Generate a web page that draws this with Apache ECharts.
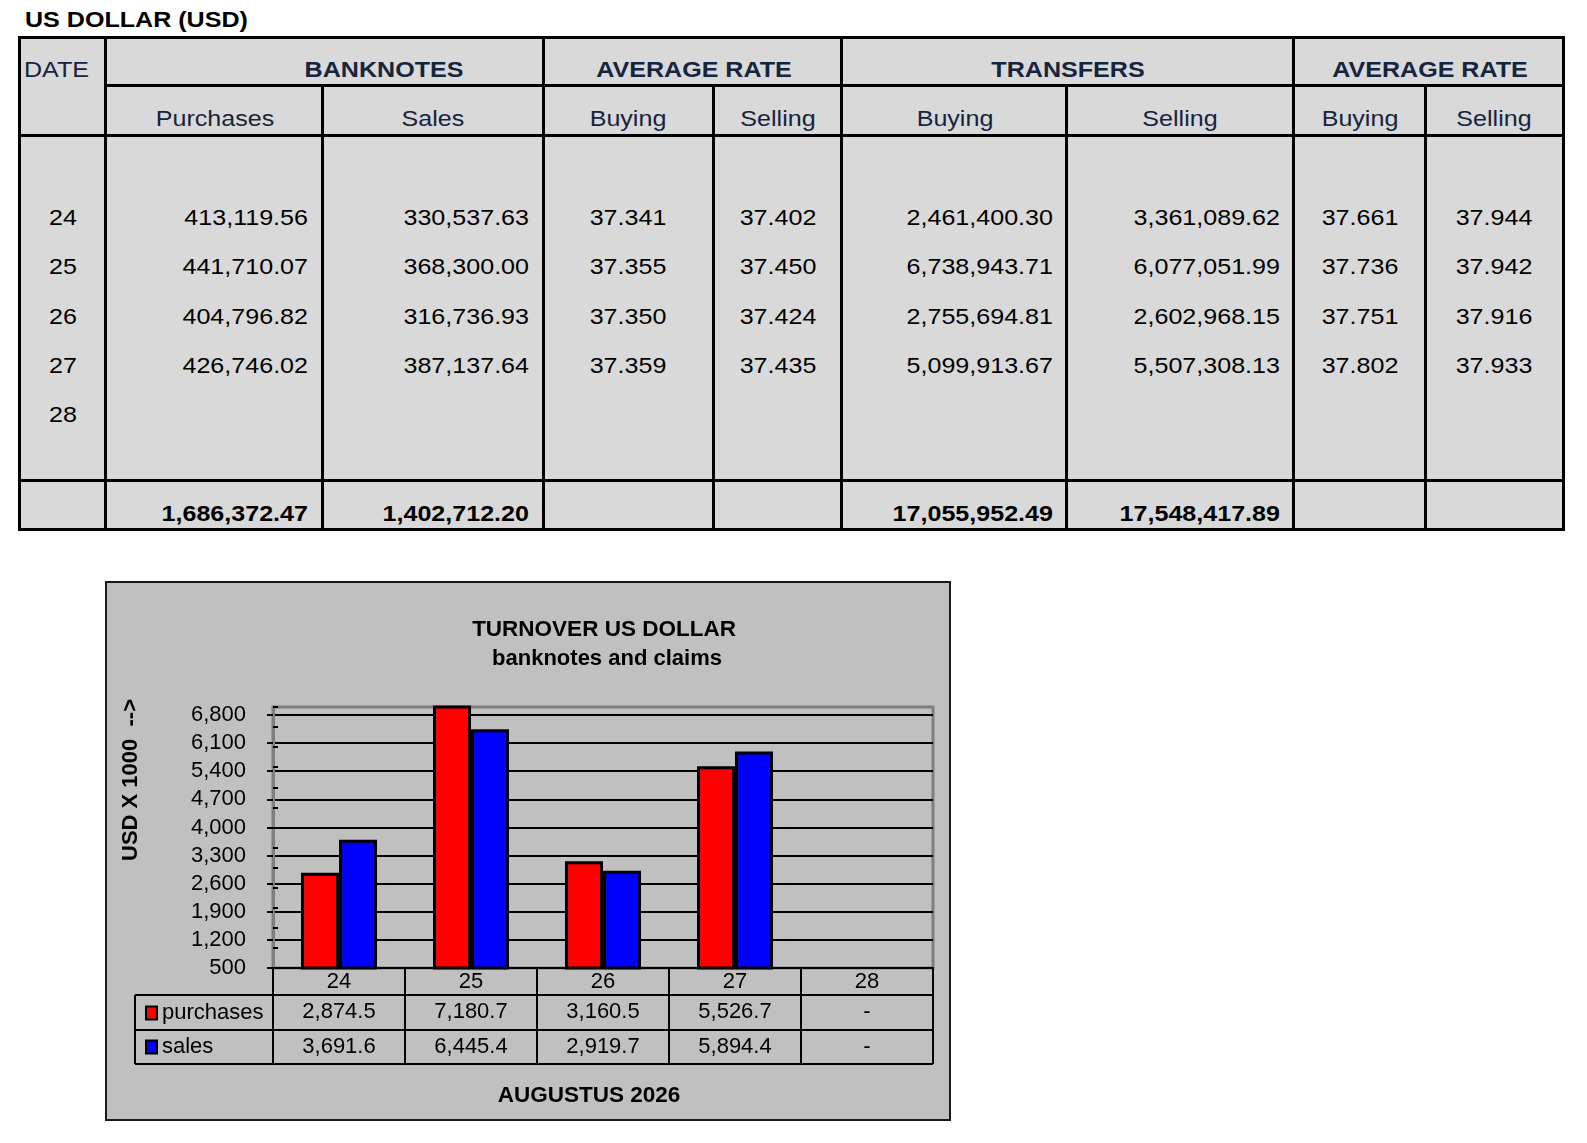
<!DOCTYPE html>
<html>
<head>
<meta charset="utf-8">
<title>US DOLLAR (USD)</title>
<script src="https://cdn.jsdelivr.net/npm/echarts@6.0.0/dist/echarts.min.js"></script>
<style>
  html, body { margin: 0; padding: 0; background: #fff; }
  #page { position: relative; width: 1587px; height: 1143px; overflow: hidden; font-family: "Liberation Sans", Arial, sans-serif; }
  .cell { position: absolute; white-space: nowrap; font-size: 22px; height: 26px; line-height: 26px; color: #000; }
  .hd { font-weight: bold; color: #15243f; }
  .sub { color: #15243f; }
  .tot { font-weight: bold; }
  .ttl { font-weight: bold; }
  .ln { position: absolute; background: #000; }
  #tbl { position: absolute; left: 19px; top: 37px; width: 1544px; height: 492px; background: #d9d9d9; }
  #chart { position: absolute; left: 105px; top: 581px; width: 846px; height: 540px; box-sizing: border-box; border: 2px solid #1a1a1a; background: #c0c0c0; }
</style>
</head>
<body>
<div id="page">
  <div id="tbl"></div>
  <div id="chart"></div>
</div>
<script>
// ---- table values (banknotes / transfers, USD) ----
var dates       = ['24', '25', '26', '27', '28'];
var bnPurchases = [413119.56, 441710.07, 404796.82, 426746.02, null];
var bnSales     = [330537.63, 368300.00, 316736.93, 387137.64, null];
var bnRateBuy   = [37.341, 37.355, 37.350, 37.359, null];
var bnRateSell  = [37.402, 37.450, 37.424, 37.435, null];
var trBuy       = [2461400.30, 6738943.71, 2755694.81, 5099913.67, null];
var trSell      = [3361089.62, 6077051.99, 2602968.15, 5507308.13, null];
var trRateBuy   = [37.661, 37.736, 37.751, 37.802, null];
var trRateSell  = [37.944, 37.942, 37.916, 37.933, null];
var totals      = [1686372.47, 1402712.20, 17055952.49, 17548417.89];

// ---- chart values (USD x 1000), 0 is shown as "-" ----
var days      = ['24', '25', '26', '27', '28'];
var purchases = [2874.5, 7180.7, 3160.5, 5526.7, 0];
var sales     = [3691.6, 6445.4, 2919.7, 5894.4, 0];
var yTicks    = [500, 1200, 1900, 2600, 3300, 4000, 4700, 5400, 6100, 6800];

var FONT = '"Liberation Sans", Arial, sans-serif';

function fmt(v, d) {
  if (v == null) return '';
  return v.toLocaleString('en-US', { minimumFractionDigits: d, maximumFractionDigits: d });
}

/*
 * top table
 */
var page = document.getElementById('page');

function line(x1, y1, x2, y2) {
  var el = document.createElement('div');
  el.className = 'ln';
  el.style.left = (x1 - 1.5) + 'px';
  el.style.top = (y1 - 1.5) + 'px';
  if (x1 === x2) {
    el.style.width = '3px'; el.style.height = (y2 - y1 + 3) + 'px';
  } else {
    el.style.width = (x2 - x1 + 3) + 'px'; el.style.height = '3px';
  }
  page.appendChild(el);
}

// the source renders its text a bit wide, so stretch it horizontally
function put(text, x, y, align, cls) {
  var el = document.createElement('div');
  el.className = 'cell' + (cls ? ' ' + cls : '');
  el.textContent = text;
  var w = 300;
  el.style.top = (y - 13) + 'px';
  el.style.width = w + 'px';
  el.style.textAlign = align;
  el.style.transform = 'scaleX(1.14)';
  if (align === 'right') {
    el.style.left = (x - w) + 'px';
    el.style.transformOrigin = 'right center';
  } else if (align === 'center') {
    el.style.left = (x - w / 2) + 'px';
    el.style.transformOrigin = 'center center';
  } else {
    el.style.left = x + 'px';
    el.style.transformOrigin = 'left center';
  }
  page.appendChild(el);
}

// borders
line(19, 37, 1563, 37);
line(105, 85, 1563, 85);
line(19, 135, 1563, 135);
line(19, 480, 1563, 480);
line(19, 529, 1563, 529);
[19, 105, 543, 841, 1293, 1563].forEach(function (x) { line(x, 37, x, 529); });
[322, 713, 1066, 1425].forEach(function (x) { line(x, 85, x, 529); });

put('US DOLLAR (USD)', 25, 20, 'left', 'ttl');

put('DATE', 24, 70, 'left', 'sub');
put('BANKNOTES', 384, 70, 'center', 'hd');
put('AVERAGE RATE', 694, 70, 'center', 'hd');
put('TRANSFERS', 1068, 70, 'center', 'hd');
put('AVERAGE RATE', 1430, 70, 'center', 'hd');

var subs = [['Purchases', 215], ['Sales', 433], ['Buying', 628], ['Selling', 778],
            ['Buying', 955], ['Selling', 1180], ['Buying', 1360], ['Selling', 1494]];
subs.forEach(function (s) { put(s[0], s[1], 119, 'center', 'sub'); });

var rowCy = [218, 267, 317, 366, 415];
dates.forEach(function (d, i) {
  var y = rowCy[i];
  put(d, 63, y, 'center');
  put(fmt(bnPurchases[i], 2), 308, y, 'right');
  put(fmt(bnSales[i], 2), 529, y, 'right');
  put(fmt(bnRateBuy[i], 3), 628, y, 'center');
  put(fmt(bnRateSell[i], 3), 778, y, 'center');
  put(fmt(trBuy[i], 2), 1053, y, 'right');
  put(fmt(trSell[i], 2), 1280, y, 'right');
  put(fmt(trRateBuy[i], 3), 1360, y, 'center');
  put(fmt(trRateSell[i], 3), 1494, y, 'center');
});

put(fmt(totals[0], 2), 308, 514, 'right', 'tot');
put(fmt(totals[1], 2), 529, 514, 'right', 'tot');
put(fmt(totals[2], 2), 1053, 514, 'right', 'tot');
put(fmt(totals[3], 2), 1280, 514, 'right', 'tot');

/*
 * chart
 */
var G = { left: 166, top: 124, width: 660, height: 261 };
var axisY = G.top + G.height;
var tblLeft = 28;
var tblRight = G.left + G.width;

function fmtCell(v) {
  return !v ? '-' : fmt(v, 1);
}

var chart = echarts.init(document.getElementById('chart'));

var option = {
  animation: false,
  backgroundColor: '#c0c0c0',
  textStyle: { fontFamily: FONT },
  grid: {
    left: G.left, top: G.top, width: G.width, height: G.height,
    show: true, borderColor: '#808080', borderWidth: 3, backgroundColor: 'transparent'
  },
  legend: {
    orient: 'vertical',
    left: 33,
    top: axisY + 29,
    itemGap: 12,
    itemWidth: 11,
    itemHeight: 13,
    icon: 'rect',
    itemStyle: { borderColor: '#000', borderWidth: 2 },
    textStyle: { fontSize: 22, color: '#000', lineHeight: 22, fontFamily: FONT },
    data: ['purchases', 'sales']
  },
  xAxis: {
    type: 'category',
    data: days,
    axisLine: { lineStyle: { color: '#000', width: 2 } },
    axisTick: { show: true, length: 96, lineStyle: { color: '#000', width: 2 } },
    axisLabel: {
      margin: 0,
      interval: 0,
      formatter: function (v, i) {
        return '{d|' + v + '}\n{v|' + fmtCell(purchases[i]) + '}\n{v|' + fmtCell(sales[i]) + '}';
      },
      rich: {
        d: { fontSize: 22, lineHeight: 27, color: '#000', fontFamily: FONT },
        v: { fontSize: 22, lineHeight: 34.5, color: '#000', fontFamily: FONT }
      }
    },
    splitLine: { show: false }
  },
  yAxis: [
    {
      type: 'value',
      min: 500,
      max: 7000,
      position: 'left',
      axisLine: { show: true, lineStyle: { color: '#808080', width: 3 } },
      axisTick: { show: true, length: 6, customValues: yTicks, lineStyle: { color: '#000', width: 2 } },
      axisLabel: {
        customValues: yTicks,
        margin: 27,
        fontSize: 22,
        color: '#000',
        fontFamily: FONT,
        formatter: function (v) { return v.toLocaleString('en-US'); }
      },
      splitLine: { show: true, lineStyle: { color: '#000', width: 2 } }
    },
    {
      // small inner ticks every 500
      type: 'value',
      min: 500,
      max: 7000,
      interval: 500,
      position: 'left',
      axisLine: { show: false },
      axisTick: { show: true, inside: true, length: 5, lineStyle: { color: '#000', width: 2 } },
      axisLabel: { show: false },
      splitLine: { show: false }
    }
  ],
  series: [
    {
      name: 'purchases',
      type: 'bar',
      data: purchases,
      barWidth: 38,
      barGap: '0%',
      itemStyle: { color: '#ff0000', borderColor: '#000', borderWidth: 3 }
    },
    {
      name: 'sales',
      type: 'bar',
      data: sales,
      barWidth: 38,
      barGap: '0%',
      itemStyle: { color: '#0000ff', borderColor: '#000', borderWidth: 3 }
    }
  ],
  graphic: [
    { type: 'text', x: 497, y: 47, style: { text: 'TURNOVER US DOLLAR', font: 'bold 22.5px ' + FONT, fill: '#000', align: 'center', verticalAlign: 'middle' } },
    { type: 'text', x: 500, y: 76, style: { text: 'banknotes and claims', font: 'bold 22px ' + FONT, fill: '#000', align: 'center', verticalAlign: 'middle' } },
    { type: 'text', x: 24, y: 197, rotation: Math.PI / 2, style: { text: 'USD X 1000  -->', font: 'bold 22px ' + FONT, fill: '#000', align: 'center', verticalAlign: 'middle' } },
    { type: 'text', x: 482, y: 513, style: { text: 'AUGUSTUS 2026', font: 'bold 22.5px ' + FONT, fill: '#000', align: 'center', verticalAlign: 'middle' } },
    // data table rules under the axis
    { type: 'line', shape: { x1: tblLeft, y1: axisY + 27, x2: tblRight, y2: axisY + 27 }, style: { stroke: '#000', lineWidth: 2 } },
    { type: 'line', shape: { x1: tblLeft, y1: axisY + 62, x2: tblRight, y2: axisY + 62 }, style: { stroke: '#000', lineWidth: 2 } },
    { type: 'line', shape: { x1: tblLeft, y1: axisY + 96, x2: tblRight, y2: axisY + 96 }, style: { stroke: '#000', lineWidth: 2 } },
    { type: 'line', shape: { x1: tblLeft, y1: axisY + 27, x2: tblLeft, y2: axisY + 96 }, style: { stroke: '#000', lineWidth: 2 } }
  ]
};

chart.setOption(option);
</script>
</body>
</html>
